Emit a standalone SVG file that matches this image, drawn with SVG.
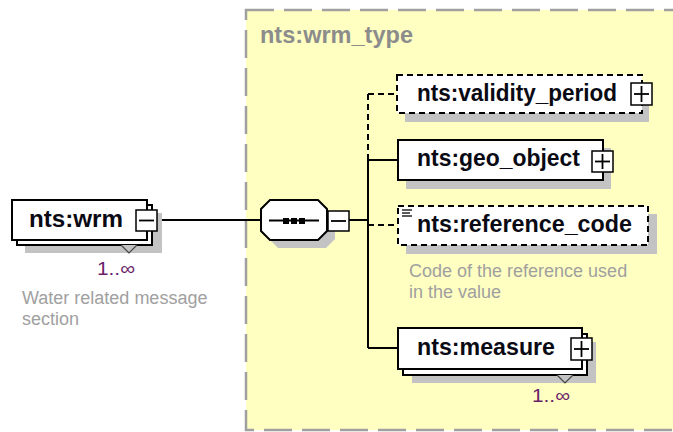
<svg xmlns="http://www.w3.org/2000/svg" width="673" height="432" viewBox="0 0 673 432">
<style>
.shadow{fill:#c3c3c3;stroke:none}
.box{fill:#fff;stroke:#000;stroke-width:2}
.dbox{fill:#fff;stroke:#000;stroke-width:2;stroke-dasharray:6 4}
.lbl{font-family:"Liberation Sans",Arial,sans-serif;font-weight:bold;font-size:23px;fill:#0a0a14}
.desc{font-family:"Liberation Sans",Arial,sans-serif;font-size:18px;fill:#a0a0a0}
.occ{font-family:"Liberation Sans",Arial,sans-serif;font-size:19px;fill:#6a1f6a}
.btn{fill:#fff;stroke:#000;stroke-width:1.5}
.sign{stroke:#000;stroke-width:1.8;fill:none}
.conn{stroke:#000;stroke-width:2;fill:none}
.dconn{stroke:#000;stroke-width:2;fill:none;stroke-dasharray:6 4}
.notch{fill:#c3c3c3;stroke:#444;stroke-width:1.2}
</style>
<rect width="673" height="432" fill="#fff"/>
<g id="wrm_type">
<rect x="246" y="10" width="440" height="420" fill="#ffffc2" stroke="#a0a0a0" stroke-width="2.5" stroke-dasharray="28 10"/>
<text x="260" y="43" font-family="Liberation Sans, Arial, sans-serif" font-weight="bold" font-size="23.5" fill="#8c8c8c" textLength="153" lengthAdjust="spacingAndGlyphs">nts:wrm_type</text>
</g>
<g id="connectors">
<line class="conn" x1="157" y1="220" x2="261" y2="220"/>
<line class="conn" x1="349" y1="220" x2="368" y2="220"/>
<line class="dconn" x1="368" y1="160" x2="368" y2="94"/>
<line class="dconn" x1="368" y1="94" x2="397" y2="94"/>
<line class="conn" x1="368" y1="160" x2="368" y2="348"/>
<line class="conn" x1="368" y1="160" x2="398" y2="160"/>
<line class="dconn" x1="368" y1="225" x2="398" y2="225"/>
<line class="conn" x1="368" y1="348" x2="398" y2="348"/>
</g>
<g id="wrm">
<rect class="shadow" x="25" y="213" width="137" height="40"/>
<rect class="box" x="17" y="205" width="135" height="40"/>
<polyline class="notch" points="121,245 129,253 137,245"/>
<rect class="box" x="12" y="200" width="135" height="40"/>
<text class="lbl" x="29" y="227" textLength="94" lengthAdjust="spacingAndGlyphs">nts:wrm</text>
<rect class="btn" x="136" y="210" width="21" height="21"/>
<line class="sign" x1="139" y1="220.5" x2="154" y2="220.5"/>
<text class="occ" x="97" y="275" textLength="38" lengthAdjust="spacingAndGlyphs">1..∞</text>
<text class="desc" x="22" y="304">Water related message</text>
<text class="desc" x="22" y="325">section</text>
</g>
<g id="sequence">
<polygon class="shadow" points="278,208 326,208 335,217 335,239 326,248 278,248 269,239 269,217"/>
<polygon class="box" points="270,200 318,200 327,209 327,231 318,240 270,240 261,231 261,209"/>
<line class="conn" x1="269" y1="220.5" x2="319" y2="220.5"/>
<rect x="283" y="218" width="6" height="6" fill="#000"/>
<rect x="291" y="218" width="6" height="6" fill="#000"/>
<rect x="299" y="218" width="6" height="6" fill="#000"/>
<rect class="btn" x="328" y="211" width="21" height="20"/>
<line class="sign" x1="331" y1="221" x2="346" y2="221"/>
</g>
<g id="validity_period">
<rect class="shadow" x="405" y="83" width="244" height="39"/>
<rect class="dbox" x="397" y="75" width="245" height="38"/>
<text class="lbl" x="417" y="101" textLength="200" lengthAdjust="spacingAndGlyphs">nts:validity_period</text>
<rect class="btn" x="631" y="83" width="21" height="22"/>
<line class="sign" x1="634" y1="94" x2="649" y2="94"/>
<line class="sign" x1="641.5" y1="86" x2="641.5" y2="102"/>
</g>
<g id="geo_object">
<rect class="shadow" x="406" y="148" width="205" height="41"/>
<rect class="box" x="398" y="140" width="205" height="40"/>
<text class="lbl" x="417" y="166" textLength="163" lengthAdjust="spacingAndGlyphs">nts:geo_object</text>
<rect class="btn" x="592" y="151" width="21" height="21"/>
<line class="sign" x1="595" y1="161.5" x2="610" y2="161.5"/>
<line class="sign" x1="602.5" y1="154" x2="602.5" y2="169"/>
</g>
<g id="reference_code">
<rect class="shadow" x="406" y="214" width="251" height="40"/>
<rect class="dbox" x="398" y="206" width="250" height="39"/>
<g stroke="#000" stroke-width="1.3">
<line x1="402" y1="210" x2="412" y2="210"/>
<line x1="402" y1="213" x2="410" y2="213"/>
<line x1="402" y1="216" x2="412" y2="216"/>
</g>
<text class="lbl" x="417" y="232" textLength="215" lengthAdjust="spacingAndGlyphs">nts:reference_code</text>
<text class="desc" x="409" y="277">Code of the reference used</text>
<text class="desc" x="409" y="298">in the value</text>
</g>
<g id="measure">
<rect class="shadow" x="412" y="342" width="184" height="41"/>
<rect class="box" x="403" y="334" width="184" height="41"/>
<polyline class="notch" points="557,375 565,383 573,375"/>
<rect class="box" x="398" y="328" width="184" height="41"/>
<text class="lbl" x="417" y="355" textLength="138" lengthAdjust="spacingAndGlyphs">nts:measure</text>
<rect class="btn" x="571" y="338" width="21" height="22"/>
<line class="sign" x1="574" y1="349" x2="589" y2="349"/>
<line class="sign" x1="581.5" y1="341" x2="581.5" y2="357"/>
<text class="occ" x="532" y="402" textLength="38" lengthAdjust="spacingAndGlyphs">1..∞</text>
</g>
</svg>
